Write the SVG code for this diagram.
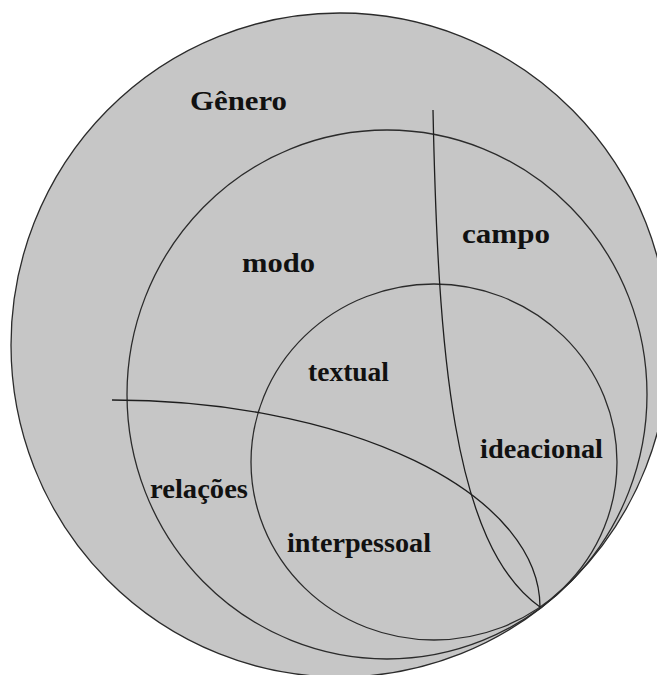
<svg xmlns="http://www.w3.org/2000/svg" width="657" height="675" viewBox="0 0 657 675">
<style>
.ring{fill:none;stroke:#2b2b2b;stroke-width:1.3}
.outer{fill:#c6c6c6;stroke:#2b2b2b;stroke-width:1.3}
.div{fill:none;stroke:#1e1e1e;stroke-width:1.3}
.lbl{font-family:"Liberation Serif","Times New Roman",serif;font-weight:bold;font-size:27px;fill:#111}
</style>
<rect width="657" height="675" fill="#ffffff"/>
<g id="genero">
<ellipse class="outer" cx="340" cy="345" rx="329" ry="332"/>
<text class="lbl" x="190" y="110" textLength="97" lengthAdjust="spacingAndGlyphs">Gênero</text>
</g>
<g id="registro">
<ellipse class="ring" cx="387" cy="394.5" rx="260" ry="264.5"/>
<text class="lbl" x="242" y="272" textLength="73" lengthAdjust="spacingAndGlyphs">modo</text>
<text class="lbl" x="462" y="243" textLength="88" lengthAdjust="spacingAndGlyphs">campo</text>
<text class="lbl" x="150" y="498" textLength="98" lengthAdjust="spacingAndGlyphs">relações</text>
</g>
<g id="metafuncoes">
<ellipse class="ring" cx="434" cy="462" rx="183" ry="178"/>
<text class="lbl" x="308" y="381" textLength="81" lengthAdjust="spacingAndGlyphs">textual</text>
<text class="lbl" x="480" y="458" textLength="123" lengthAdjust="spacingAndGlyphs">ideacional</text>
<text class="lbl" x="287" y="552" textLength="144" lengthAdjust="spacingAndGlyphs">interpessoal</text>
</g>
<g id="connectors">
<path class="div" d="M433,110 C438,350 452,545 540,607"/>
<path class="div" d="M112,400 A428,207 0 0 1 540,607"/>
</g>
</svg>
